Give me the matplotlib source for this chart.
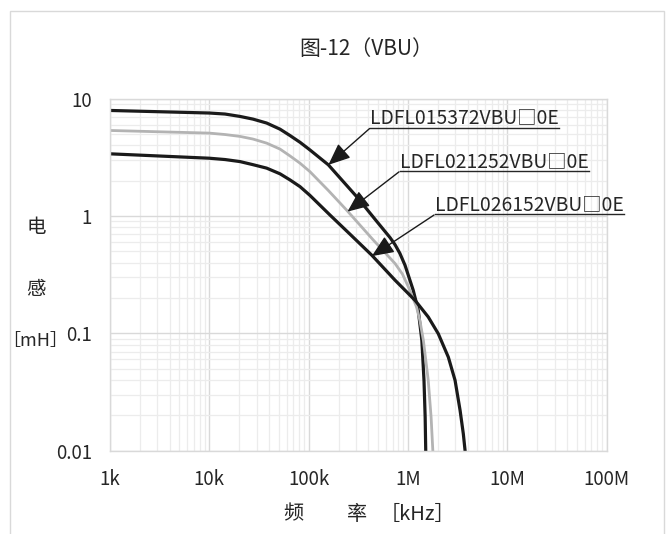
import matplotlib
matplotlib.use('Agg')
import matplotlib.pyplot as plt
from matplotlib.lines import Line2D
from matplotlib.patches import Rectangle

plt.rcParams['font.family'] = ['Noto Sans CJK SC', 'DejaVu Sans']

# Inductance [mH] vs frequency [Hz]
freq_a = [1e3, 1e4, 1.44e4, 2.04e4, 2.75e4, 3.78e4, 5.15e4, 6.5e4, 8.19e4, 1.03e5,
          1.58e5, 3.05e5, 4.8e5, 6.6e5, 7.41e5, 8.3e5, 9.35e5, 1.13e6, 1.27e6,
          1.38e6, 1.45e6, 1.49e6, 1.51e6]
ind_a = [7.94, 7.55, 7.4, 7.06, 6.7, 6.2, 5.5, 4.85, 4.25, 3.66,
         2.73, 1.46, 0.91, 0.655, 0.57, 0.48, 0.38, 0.233, 0.157,
         0.087, 0.0398, 0.0193, 0.01]

freq_b = [1e3, 1e4, 1.44e4, 2.04e4, 2.75e4, 3.78e4, 5.15e4, 6.5e4, 8.19e4, 1.03e5,
          1.58e5, 2.42e5, 4.48e5, 7.41e5, 8.8e5, 1.01e6, 1.22e6, 1.32e6, 1.43e6,
          1.60e6, 1.71e6, 1.78e6]
ind_b = [5.36, 5.09, 4.95, 4.77, 4.53, 4.18, 3.72, 3.25, 2.82, 2.39,
         1.65, 1.12, 0.624, 0.394, 0.32, 0.249, 0.168, 0.128, 0.087,
         0.0398, 0.0193, 0.01]

freq_c = [1e3, 1e4, 1.44e4, 2.04e4, 2.75e4, 3.78e4, 5.15e4, 6.5e4, 8.19e4, 1.03e5,
          1.64e5, 2.61e5, 4.32e5, 7.41e5, 1.18e6, 1.60e6, 2.02e6, 2.55e6, 2.98e6,
          3.35e6, 3.61e6, 3.76e6]
ind_c = [3.39, 3.11, 3.03, 2.91, 2.74, 2.56, 2.29, 2.03, 1.78, 1.5,
         1.02, 0.70, 0.464, 0.284, 0.191, 0.138, 0.0993, 0.0627, 0.0398,
         0.022, 0.0139, 0.01]

labels = ['LDFL015372VBU□0E', 'LDFL021252VBU□0E', 'LDFL026152VBU□0E']
# arrow tip on curve, and label anchor (tail of arrow)
tips = [(1.58e5, 2.73), (2.46e5, 1.09), (4.32e5, 0.455)]
tails = [(4.11e5, 5.57), (8.13e5, 2.38), (1.83e6, 1.02)]

xticks = [1e3, 1e4, 1e5, 1e6, 1e7, 1e8]
xticklabels = ['1k', '10k', '100k', '1M', '10M', '100M']
yticks = [0.01, 0.1, 1, 10]
yticklabels = ['0.01', '0.1', '1', '10']

W, H = 666, 534
fig = plt.figure(figsize=(W / 100, H / 100), dpi=100)
ax = fig.add_axes([110 / W, 1 - 450.7 / H, 496.6 / W, 352 / H])

ax.plot(freq_a, ind_a, color='#1a1a1a', lw=2.3, solid_joinstyle='round')
ax.plot(freq_b, ind_b, color='#b3b3b3', lw=2.0, solid_joinstyle='round')
ax.plot(freq_c, ind_c, color='#1a1a1a', lw=2.3, solid_joinstyle='round')

ax.set_xscale('log')
ax.set_yscale('log')
ax.set_xlim(1e3, 1e8)
ax.set_ylim(0.01, 10)
ax.set_xticks(xticks)
ax.set_xticklabels(xticklabels)
ax.set_yticks(yticks)
ax.set_yticklabels(yticklabels)
ax.tick_params(which='both', length=0, labelsize=13.5, colors='#262626')
ax.tick_params(axis='x', pad=13)
ax.tick_params(axis='y', pad=13)
ax.grid(which='major', color='#d9d9d9', lw=1.0)
ax.grid(which='minor', color='#ececec', lw=0.9)
ax.set_axisbelow(True)
for s in ax.spines.values():
    s.set_color('#d9d9d9')
    s.set_linewidth(1.0)

texts = []
for lab, tip, tail in zip(labels, tips, tails):
    ax.annotate('', xy=tip, xytext=tail,
                arrowprops=dict(arrowstyle='-|>,head_length=0.75,head_width=0.32',
                                color='#1a1a1a', lw=1.0, mutation_scale=18,
                                shrinkA=0, shrinkB=0))
    t = ax.text(tail[0] * 1.02, tail[1], lab, ha='left', va='bottom',
                fontsize=13.9, color='#262626')
    texts.append(t)

fig.text(366 / W, 1 - 49 / H, '图-12（VBU）', ha='center', va='center',
         fontsize=15, color='#262626')
# x-axis title: 频 ... 率 [kHz]
fig.text(283 / W, 1 - 514 / H, '频', ha='left', va='center', fontsize=14.5, color='#262626')
fig.text(347 / W, 1 - 514 / H, '率', ha='left', va='center', fontsize=14.5, color='#262626')
fig.text(380 / W, 1 - 514 / H, '［kHz］', ha='left', va='center', fontsize=14.5, color='#262626')
# y-axis title
fig.text(36 / W, 1 - 227 / H, '电', ha='center', va='center', fontsize=14, color='#262626')
fig.text(36 / W, 1 - 290 / H, '感', ha='center', va='center', fontsize=14, color='#262626')
fig.text(35 / W, 1 - 341 / H, '［mH］', ha='center', va='center', fontsize=13, color='#262626')

# chart-area border
fig.add_artist(Rectangle((10 / W, -0.05), 654 / W, 1 - 11 / H + 0.05,
                         transform=fig.transFigure, fill=False,
                         edgecolor='#d9d9d9', lw=1.0))

# underline the part-number labels
fig.canvas.draw()
renderer = fig.canvas.get_renderer()
inv = fig.transFigure.inverted()
for t in texts:
    bb = t.get_window_extent(renderer)
    (x0, y0), (x1, _) = inv.transform([(bb.x0, bb.y0 + 1), (bb.x1, bb.y0 + 1)])
    fig.add_artist(Line2D([x0, x1], [y0, y0], transform=fig.transFigure,
                          color='#262626', lw=1.0))

fig.savefig('out.png', dpi=100)
